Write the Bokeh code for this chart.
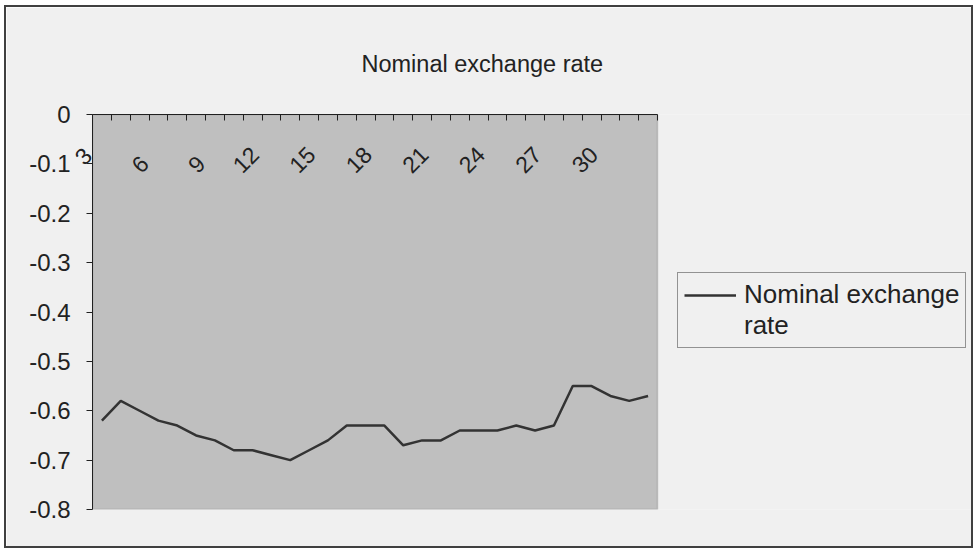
from math import pi
from bokeh.plotting import figure
from bokeh.models import (Range1d, LinearAxis, FixedTicker, Legend, LegendItem, BoxAnnotation,
                          Title)
from bokeh.embed import file_html
from bokeh.resources import INLINE

# ---- data ----
periods = [3, 4, 5, 6, 7, 8, 9, 10, 11, 12, 13, 14, 15, 16, 17, 18, 19, 20, 21, 22,
           23, 24, 25, 26, 27, 28, 29, 30, 31, 32]
nominal_exchange_rate = [-0.62, -0.58, -0.60, -0.62, -0.63, -0.65, -0.66, -0.68, -0.68, -0.69,
                         -0.70, -0.68, -0.66, -0.63, -0.63, -0.63, -0.67, -0.66, -0.66, -0.64,
                         -0.64, -0.64, -0.63, -0.64, -0.63, -0.55, -0.55, -0.57, -0.58, -0.57]
x_label_periods = [3, 6, 9, 12, 15, 18, 21, 24, 27, 30]
x_tick_labels = ["3", "6", "9", "12", "15", "18", "21", "24", "27", "30"]
y_ticks = [0, -0.1, -0.2, -0.3, -0.4, -0.5, -0.6, -0.7, -0.8]
y_tick_labels = ["0", "-0.1", "-0.2", "-0.3", "-0.4", "-0.5", "-0.6", "-0.7", "-0.8"]
title_text = "Nominal exchange rate"
series_name_lines = ["Nominal exchange", "rate"]

FONT = "Liberation Sans"
CHART_BG = "#f0f0f0"
PLOT_BG = "#bfbfbf"
INK = "#222222"

# layout (pixels): plot area 565 x 395; the frame is extended right to hold the legend
PLOT_W, PLOT_H = 565, 395
CANVAS_W, CANVAS_H = 965, 539
BORDER_L, BORDER_T, BORDER_B = 86, 107, 37
FRAME_W = CANVAS_W - BORDER_L

x_lo, x_hi = periods[0] - 0.5, periods[-1] + 0.5
px_per_x = PLOT_W / (x_hi - x_lo)
y_lo, y_hi = y_ticks[-1], y_ticks[0]

p = figure(frame_width=FRAME_W, frame_height=PLOT_H, output_backend="svg",
           toolbar_location=None,
           x_range=Range1d(x_lo, x_lo + FRAME_W / px_per_x),
           y_range=Range1d(y_lo, y_hi),
           x_axis_location=None, y_axis_location="left",
           min_border_left=BORDER_L, min_border_right=0,
           min_border_top=BORDER_T, min_border_bottom=BORDER_B)
p.background_fill_color = CHART_BG
p.border_fill_color = CHART_BG
p.outline_line_color = None
p.xgrid.visible = False
p.ygrid.visible = False
p.styles = {"border": "2px solid #404040", "margin": "5px 1px 1px 4px"}

# grey plot area
p.add_layout(BoxAnnotation(left=x_lo, right=x_hi, bottom=y_lo, top=y_hi, level="underlay",
                           fill_color=PLOT_BG, fill_alpha=1.0,
                           line_color="#707070", line_width=1.5))

# y axis
yax = p.yaxis[0]
yax.ticker = FixedTicker(ticks=y_ticks)
yax.major_label_overrides = {t: s for t, s in zip(y_ticks, y_tick_labels)}
yax.major_tick_out = 6
yax.major_tick_in = 0
yax.minor_tick_out = 0
yax.minor_tick_in = 0
yax.axis_line_color = "#202020"
yax.major_tick_line_color = "#202020"
yax.major_label_text_font = FONT
yax.major_label_text_font_size = "24px"
yax.major_label_text_color = INK
yax.major_label_standoff = 16

# top category axis: tick marks between categories
boundaries = [v - 0.5 for v in periods] + [periods[-1] + 0.5]
top = LinearAxis(ticker=FixedTicker(ticks=boundaries), bounds=(x_lo, x_hi))
top.major_tick_in = 6
top.major_tick_out = 0
top.minor_tick_in = 0
top.minor_tick_out = 0
top.major_label_overrides = {b: "" for b in boundaries}
top.major_label_standoff = 0
top.major_label_text_font_size = "1px"
top.axis_line_color = "#202020"
top.major_tick_line_color = "#202020"
p.add_layout(top, "above")


def style_label_axis(ax, standoff):
    ax.major_label_orientation = pi / 4
    ax.major_label_standoff = standoff
    ax.major_tick_in = 0
    ax.major_tick_out = 0
    ax.minor_tick_in = 0
    ax.minor_tick_out = 0
    ax.axis_line_color = None
    ax.major_label_text_font = FONT
    ax.major_label_text_font_size = "23px"
    ax.major_label_text_color = INK


# rotated category labels, drawn inside the plot area as in the original
label_pos, label_txt = [], []
for v, s in zip(x_label_periods, x_tick_labels):
    pos = v - 1.85 + (0.62 if len(s) == 1 else 0.0)
    if pos >= x_lo:
        label_pos.append(pos)
        label_txt.append(s)
labax = LinearAxis(ticker=FixedTicker(ticks=label_pos))
labax.major_label_overrides = {t: s for t, s in zip(label_pos, label_txt)}
style_label_axis(labax, -54)
p.add_layout(labax, "above")

# the first category label falls left of the plot area (next to "-0.1")
first_y = -0.075
firstax = LinearAxis(ticker=FixedTicker(ticks=[first_y]))
firstax.major_label_overrides = {first_y: x_tick_labels[0]}
style_label_axis(firstax, -61)
p.add_layout(firstax, "left")

# series
r = p.line(periods, nominal_exchange_rate, line_color="#333333", line_width=2.5)

legend = Legend(items=[LegendItem(label=series_name_lines[0], renderers=[r]),
                       LegendItem(label=series_name_lines[1], renderers=[])],
                location=(585, 161),
                label_text_font=FONT, label_text_font_size="26px", label_text_color=INK,
                glyph_width=52, glyph_height=30, label_height=30, label_standoff=8,
                padding=6, margin=0, spacing=0,
                border_line_color="#333333", border_line_width=1.2,
                background_fill_color=CHART_BG, background_fill_alpha=1.0)
p.add_layout(legend)

# chart title, centred over the whole chart
p.add_layout(Title(text=title_text, align="left", offset=269, standoff=76,
                   text_font=FONT, text_font_size="23.5px", text_font_style="normal",
                   text_color=INK), "above")

open("out.html", "w").write(file_html(p, INLINE))
